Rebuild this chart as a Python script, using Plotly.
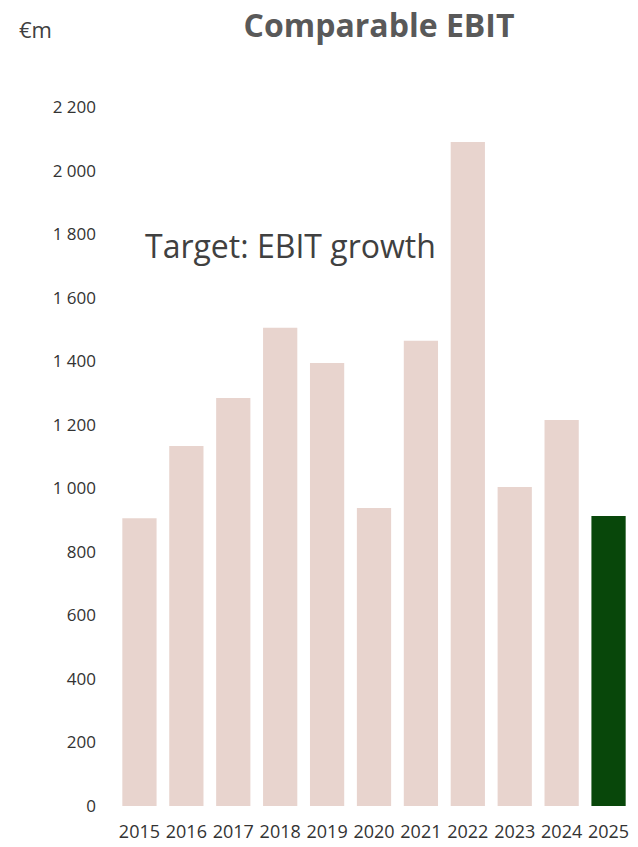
import plotly.graph_objects as go

years = ['2015', '2016', '2017', '2018', '2019', '2020', '2021', '2022', '2023', '2024', '2025']
ebit = [906, 1133, 1284, 1505, 1394, 938, 1464, 2090, 1004, 1215, 913]
y_ticks = [0, 200, 400, 600, 800, 1000, 1200, 1400, 1600, 1800, 2000, 2200]

# last year highlighted in dark green
bar_colors = ['#E8D4CE'] * (len(years) - 1) + ['#08470A']

fig = go.Figure(go.Bar(
    x=years, y=ebit,
    marker=dict(color=bar_colors, line=dict(width=0)),
    hoverinfo='skip',
))

fig.update_xaxes(
    type='category',
    showgrid=False, showline=False, zeroline=False,
    ticks='', ticklabelstandoff=13, tickangle=0, automargin=False,
    tickfont=dict(size=18, color='#333333'),
)
fig.update_yaxes(
    range=[0, 2200],
    tickvals=y_ticks,
    tickformat=',d',
    showgrid=False, showline=False, zeroline=False,
    ticks='', ticklabelstandoff=19, automargin=False,
    tickfont=dict(size=17, color='#333333'),
)

plot_w = 516  # plot width in px, used to place the annotations

#Unit label (page is offset 8px by the body margin)
fig.add_annotation(dict(font=dict(color='#404040', size=22, family='Open Sans'),
    x=(17 - 116) / plot_w, y=(806 - 29) / 699,
    xref='paper', yref='paper', showarrow=False,
    text='€m', xanchor='left', yanchor='middle'))

# target text inside the plot
fig.add_annotation(dict(font=dict(color='#404040', size=32, family='Open Sans'),
    x=(143 - 116) / plot_w, y=(806 - 246) / 699,
    xref='paper', yref='paper', showarrow=False,
    text='Target: EBIT growth', xanchor='left', yanchor='middle'))

fig.update_layout(
    width=630, height=839,
    margin=dict(l=108, r=6, t=99, b=41),
    bargap=0.27,
    plot_bgcolor='white',
    paper_bgcolor='white',
    separators='. ',
    font=dict(family='Open Sans', color='#333333'),
    showlegend=False,
    title=dict(
        text='<b>Comparable EBIT</b>',
        x=371 / 630, y=1 - 18 / 839,
        xanchor='center', yanchor='middle',
        font=dict(family='Open Sans', size=32, color='#595959'),
    ),
)

fig.write_html('out.html')
